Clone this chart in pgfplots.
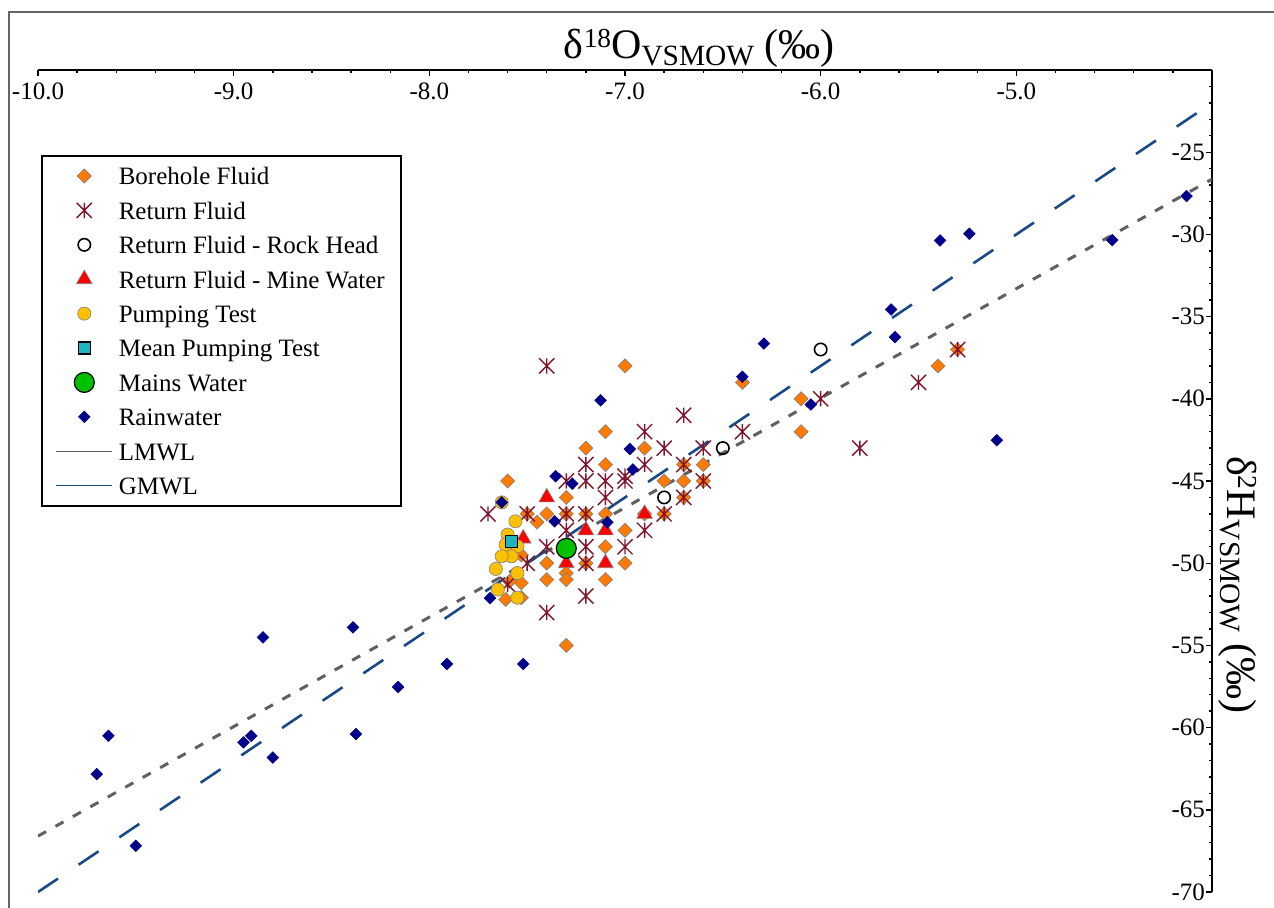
\documentclass[border=0pt]{standalone}
\usepackage{fontspec}
\setmainfont{Liberation Serif}
\usepackage{pgfplots}
\pgfplotsset{compat=1.18}

\definecolor{borehole}{HTML}{FF7A00}
\definecolor{returnfl}{HTML}{80142A}
\definecolor{minewater}{HTML}{FF0000}
\definecolor{pumping}{HTML}{FFC000}
\definecolor{meanpump}{HTML}{1EB4C0}
\definecolor{mains}{HTML}{00C000}
\definecolor{rain}{HTML}{00008B}
\definecolor{lmwl}{HTML}{606060}
\definecolor{gmwl}{HTML}{1A4A85}
\definecolor{frame}{HTML}{666666}

% X with a vertical bar, as in the reference
\pgfdeclareplotmark{xast}{%
  \pgfpathmoveto{\pgfqpoint{-\pgfplotmarksize}{-\pgfplotmarksize}}%
  \pgfpathlineto{\pgfqpoint{\pgfplotmarksize}{\pgfplotmarksize}}%
  \pgfpathmoveto{\pgfqpoint{-\pgfplotmarksize}{\pgfplotmarksize}}%
  \pgfpathlineto{\pgfqpoint{\pgfplotmarksize}{-\pgfplotmarksize}}%
  \pgfpathmoveto{\pgfqpoint{0pt}{-\pgfplotmarksize}}%
  \pgfpathlineto{\pgfqpoint{0pt}{\pgfplotmarksize}}%
  \pgfusepathqstroke}

\newcommand{\ls}{\rule[-3.2pt]{0pt}{15.2pt}}
\newcommand{\bigf}{\fontsize{21}{25}\selectfont}
\newcommand{\supf}{\fontsize{13.7}{15}\selectfont}
\newcommand{\subf}{\fontsize{14.7}{16}\selectfont}

\begin{document}
\begin{tikzpicture}
\begin{axis}[
    scale only axis,
    width=587pt, height=411pt,
    xmin=-10, xmax=-4,
    ymin=-70, ymax=-20,
    axis x line*=top,
    axis y line*=right,
    axis line style={black, line width=0.8pt},
    tick align=inside,
    tick style={black, line width=0.7pt},
    major tick length=3pt,
    minor tick length=1.7pt,
    xtick={-10,-9,-8,-7,-6,-5},
    xticklabels={-10.0,-9.0,-8.0,-7.0,-6.0,-5.0},
    minor xtick={-10,-9.8,...,-4},
    ytick={-70,-65,-60,-55,-50,-45,-40,-35,-30,-25},
    yticklabels={-70,-65,-60,-55,-50,-45,-40,-35,-30,-25},
    minor ytick={-70,-69,...,-20},
    ticklabel style={font=\fontsize{12.5}{15}\selectfont},
    xticklabel style={anchor=north, yshift=-3pt},
    yticklabel style={anchor=east},
    every axis x label/.style={at={(axis description cs:0.442,1.0146)}, anchor=base west},
    every axis y label/.style={at={(axis description cs:1.0136,0.539)}, rotate=-90, anchor=base west},
    xlabel={\bigf δ\raisebox{5.3pt}{\supf 18}O\raisebox{-3.7pt}{\subf VSMOW} (‰)},
    ylabel={\bigf δ\raisebox{5.3pt}{\supf 2}H\raisebox{-3.7pt}{\subf VSMOW} (‰)},
    legend style={at={(axis description cs:0,1)}, anchor=north west,
        xshift=1.5pt, yshift=-42.5pt,
        draw=black, line width=0.8pt, fill=white,
        inner xsep=7pt, inner ysep=1.5pt,
        row sep=0pt, column sep=2pt,
        nodes={inner sep=1pt, text depth=},
        font=\fontsize{12.5}{15}\selectfont},
    legend cell align=left,
    legend image code/.code={\draw[mark repeat=2,mark phase=2,#1] plot coordinates {(0pt,0pt)(14pt,0pt)(28pt,0pt)};},
]

% Borehole Fluid
\addplot[only marks, mark=square*, mark size=2.5pt,
    mark options={rotate=45, fill=borehole, draw=gray, line width=0.3pt}]
coordinates {
(-7.0,-38) (-7.1,-42) (-7.2,-43) (-6.9,-43) (-7.1,-44) (-7.6,-45)
(-7.3,-46) (-7.5,-47) (-7.45,-47.5) (-7.4,-47) (-7.3,-47) (-7.2,-47)
(-7.1,-47) (-6.9,-47) (-7.0,-48) (-7.1,-49) (-7.53,-49.5) (-7.4,-50)
(-7.3,-50.6) (-7.2,-50) (-7.0,-50) (-7.4,-51) (-7.3,-51) (-7.1,-51)
(-7.53,-51.2) (-7.59,-51.1) (-7.61,-52.2) (-7.53,-52.1) (-7.3,-55)
(-6.7,-44) (-6.6,-44) (-6.8,-45) (-6.7,-45) (-6.6,-45) (-6.7,-46)
(-6.8,-47) (-6.4,-39) (-6.1,-40) (-6.1,-42) (-5.4,-38) (-5.3,-37)
};
\addlegendentry{\ls Borehole Fluid}

% Return Fluid
\addplot[only marks, mark=xast, mark size=3.8pt,
    mark options={draw=returnfl, line width=0.7pt}]
coordinates {
(-7.4,-38) (-6.9,-42) (-6.7,-41) (-6.4,-42) (-6.8,-43) (-6.6,-43)
(-7.2,-44) (-6.9,-44) (-6.7,-44) (-7.3,-45) (-7.2,-45) (-7.1,-45)
(-7.0,-44.7) (-7.0,-45) (-6.6,-45) (-7.1,-46) (-6.7,-46) (-7.7,-47)
(-7.5,-47) (-7.3,-47) (-7.2,-47) (-6.8,-47) (-7.3,-48) (-6.9,-48)
(-7.4,-49) (-7.2,-49) (-7.0,-49) (-7.5,-50) (-7.2,-50) (-7.6,-51.3)
(-7.2,-52) (-7.4,-53) (-6.0,-40) (-5.8,-43) (-5.5,-39) (-5.3,-37)
};
\addlegendentry{\ls Return Fluid}

% Return Fluid - Rock Head
\addplot[only marks, mark=o, mark size=3.1pt,
    mark options={draw=black, line width=0.8pt}]
coordinates {(-6.5,-43) (-6.8,-46) (-6.0,-37)};
\addlegendentry{\ls Return Fluid - Rock Head}

% Return Fluid - Mine Water
\addplot[only marks, mark=triangle*, mark size=4.5pt,
    mark options={fill=minewater, draw=gray, line width=0.3pt}]
coordinates {(-7.4,-46) (-7.52,-48.5) (-7.2,-48) (-7.1,-48) (-6.9,-47) (-7.3,-50) (-7.1,-50)};
\addlegendentry{\ls Return Fluid - Mine Water}

% Pumping Test
\addplot[only marks, mark=*, mark size=3.3pt,
    mark options={fill=pumping, draw=gray, line width=0.3pt}]
coordinates {
(-7.63,-46.3) (-7.56,-47.45) (-7.60,-48.26) (-7.61,-48.87) (-7.55,-48.97)
(-7.58,-49.58) (-7.63,-49.58) (-7.66,-50.35) (-7.55,-50.6) (-7.65,-51.6)
(-7.55,-52.1)
};
\addlegendentry{\ls Pumping Test}

% Mean Pumping Test
\addplot[only marks, mark=square*, mark size=3pt,
    mark options={fill=meanpump, draw=black, line width=0.8pt}]
coordinates {(-7.58,-48.67)};
\addlegendentry{\ls Mean Pumping Test}

% Mains Water
\addplot[only marks, mark=*, mark size=5pt,
    mark options={fill=mains, draw=black, line width=0.6pt}]
coordinates {(-7.3,-49.1)};
\addlegendentry{\ls Mains Water}

% Rainwater
\addplot[only marks, mark=square*, mark size=2.05pt,
    mark options={rotate=45, fill=rain, draw=rain, line width=0.3pt}]
coordinates {
(-4.13,-27.67) (-4.51,-30.35) (-5.39,-30.37) (-5.24,-29.96) (-5.64,-34.57)
(-5.62,-36.25) (-6.29,-36.64) (-6.40,-38.66) (-6.05,-40.35) (-5.10,-42.52)
(-7.125,-40.09) (-6.975,-43.05) (-6.96,-44.3) (-7.355,-44.71) (-7.27,-45.16)
(-7.09,-47.51) (-7.36,-47.45) (-7.63,-46.3) (-7.69,-52.12) (-7.52,-56.13)
(-7.91,-56.13) (-8.16,-57.53) (-8.39,-53.9) (-8.85,-54.51) (-8.375,-60.39)
(-8.80,-61.82) (-8.91,-60.5) (-8.95,-60.9) (-9.64,-60.5) (-9.70,-62.83)
(-9.50,-67.19)
};
\addlegendentry{\ls Rainwater}

% LMWL
\addplot[no markers, color=lmwl, line width=1.5pt, dash pattern=on 4.6pt off 5.4pt,
    legend image post style={solid, line width=0.5pt}]
coordinates {(-10,-66.6) (-4,-26.64)};
\addlegendentry{\ls LMWL}

% GMWL
\addplot[no markers, color=gmwl, line width=1.3pt, dash pattern=on 12pt off 12.5pt,
    legend image post style={solid, line width=0.5pt}]
coordinates {(-10,-70) (-4,-22)};
\addlegendentry{\ls GMWL}

\end{axis}
\draw[line width=1pt, color=frame] (-14.5pt,-30pt) -- (-14.5pt,440pt) -- (660pt,440pt);
\pgfresetboundingbox
\path (-19pt,-7.5pt) rectangle (618pt,446pt);
\end{tikzpicture}
\end{document}
